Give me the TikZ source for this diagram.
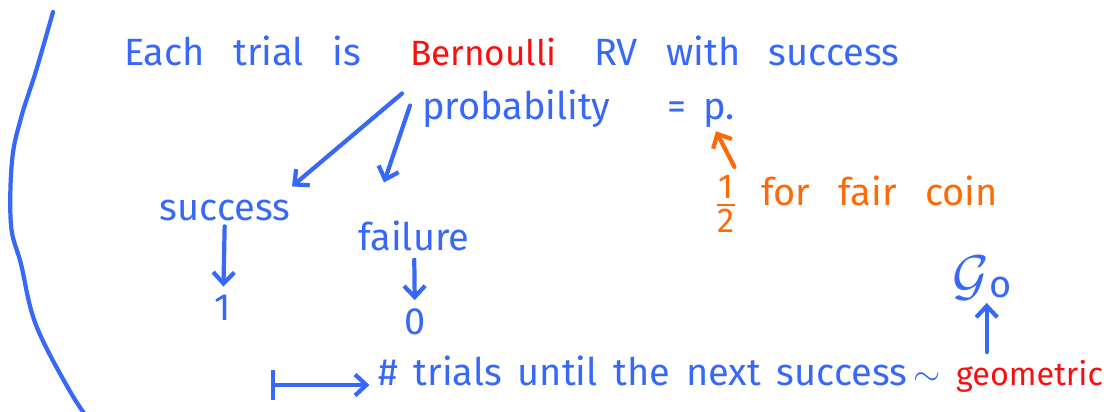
\documentclass[tikz,border=0pt]{standalone}
\usepackage{amsmath,amssymb}
\usepackage{fontspec}
\setmainfont{Fira Sans}
\usepackage{xcolor}
\usetikzlibrary{arrows.meta, calc}

\definecolor{inkblue}{HTML}{3868F8}
\definecolor{inkred}{HTML}{F81010}
\definecolor{inkorange}{HTML}{FF6A08}

\newcommand{\handfont}{\fontsize{27}{32}\selectfont\spaceskip=0.75em plus 0.1em\relax}
\newcommand{\tighthand}{\fontsize{27}{32}\selectfont\spaceskip=0.42em plus 0.05em\relax}

\begin{document}
\begin{tikzpicture}[
  x=0.025cm, y=-0.025cm,
  >={Straight Barb[length=8pt,width=15pt]},
  % Pen stroke
  pen/.style={line width=3pt, line cap=round, line join=round},
  % Blue and orange arrows
  barr/.style={pen, ->, draw=inkblue},
  oarr/.style={pen, ->, draw=inkorange},
  % Written text
  ink/.style={font=\handfont, text=inkblue, inner sep=2pt},
  redink/.style={ink, text=inkred},
  orink/.style={ink, text=inkorange}
]
\useasboundingbox (0,0) rectangle (1113,412);

%% Left bracket stroke
\draw[pen, draw=inkblue] plot[smooth, tension=0.6] coordinates
  {(53,12) (36,71) (21,118) (12,161) (11,225) (21,264) (36,325) (71,393) (95,428)};

%% First sentence
\node[ink, anchor=base west]    (each) at (121,66)  {Each trial is};
\node[redink, anchor=base west, font=\fontsize{25}{30}\selectfont] (bern) at (407,66) {Bernoulli};
\node[ink, anchor=base west]    (rv)   at (591,66)  {RV with success};
\node[ink, anchor=base west]    (prob) at (419,120) {probability\ \ =};
\node[ink, anchor=base west]    (pval) at (700,120) {p.};

%% Fair coin note
\node[orink] (half) at (726,204) {\scalebox{1.3}{$\frac{\text{1}}{\text{2}}$}};
\node[orink, anchor=base west] (coin) at (758,206) {for fair coin};
\draw[oarr] ([xshift=6pt,yshift=4pt]half.north) -- ([xshift=-2pt]pval.south);

%% Outcomes
\node[ink] (succ) at (225,210) {success};
\node[ink] (fail) at (414,236) {failure};
\node[ink] (one)  at (223,308) {1};
\node[ink] (zero) at (415,322) {0};

\draw[barr] ([shift={(-5,24)}]bern.south west) -- ([shift={(67,-10)}]succ.north);
\draw[barr] ([shift={(3,36)}]bern.south west) -- ([shift={(-30,-14)}]succ.north -| fail.north);
\draw[barr, shorten <=2pt, shorten >=4pt] (succ) -- (one);
\draw[barr, shorten <=4pt, shorten >=4pt] (fail) -- (zero);

%% Counting trials
\coordinate (mapsfrom) at (271,385);
\node[ink, anchor=base west, font=\tighthand]
  (trials) at (375,386) {\# trials until the next success\,$\sim$};
\node[redink, anchor=base west, font=\fontsize{23}{28}\selectfont] (geom) at (953,386) {geometric};
\node[ink] (gzero) at (982,278) {\scalebox{1.6}{$\mathcal{G}$}\raisebox{-2pt}{o}};

\draw[pen, draw=inkblue, {Bar[width=22pt]}->, shorten >=4pt] (mapsfrom) -- (trials.west |- mapsfrom);
\draw[barr] ([xshift=24pt,yshift=4pt]geom.north west) -- ([xshift=24pt]geom.north west |- gzero.south);

\end{tikzpicture}
\end{document}
